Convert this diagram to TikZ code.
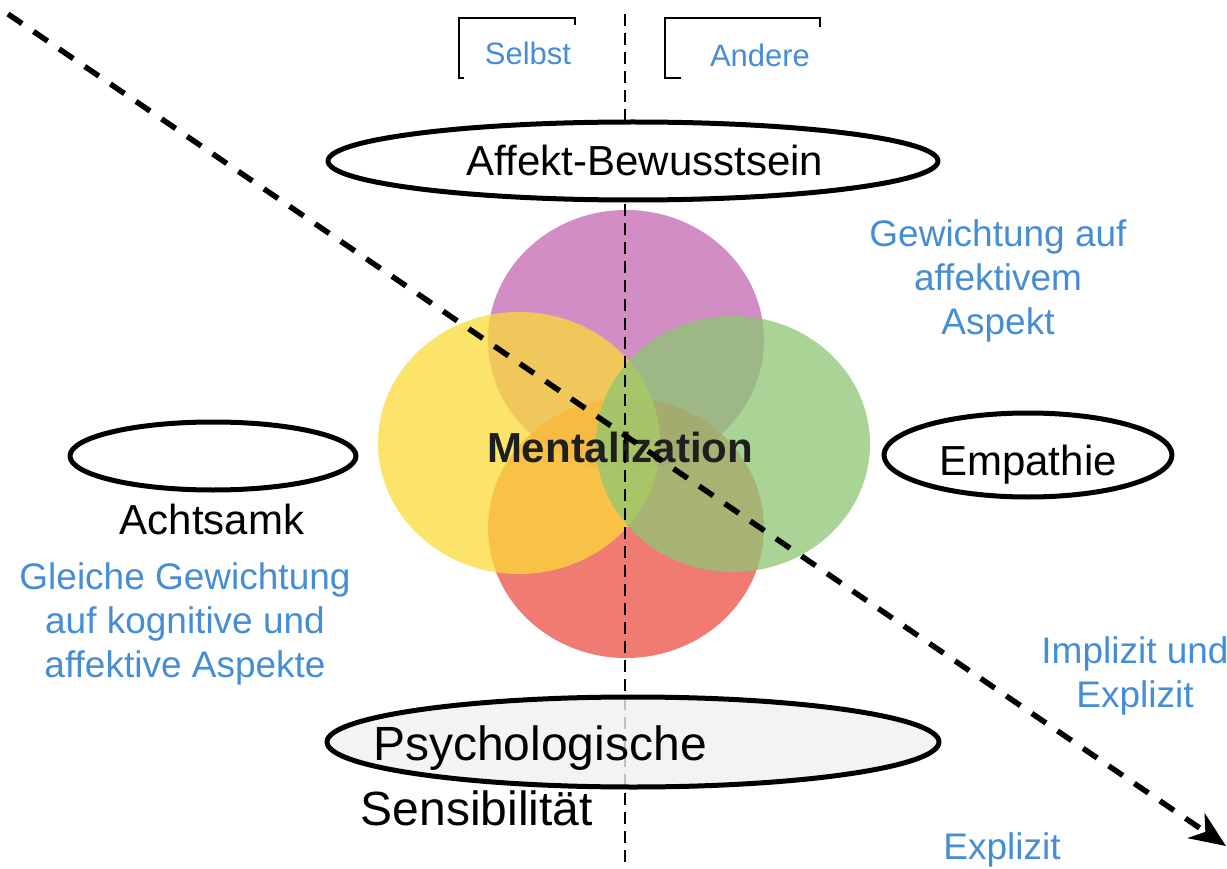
\documentclass[tikz,border=0pt]{standalone}
\usepackage{fontspec}
\setmainfont{Liberation Sans}
\usetikzlibrary{arrows.meta}
\definecolor{notecol}{RGB}{70,142,212}
\definecolor{affcol}{RGB}{196,103,178}
\definecolor{sencol}{RGB}{235,79,67}
\definecolor{achcol}{RGB}{251,219,56}
\definecolor{empcol}{RGB}{142,198,115}
\begin{document}
\begin{tikzpicture}[
		x=1pt,y=-1pt,
		line cap=butt,
		line join=round,
		term/.style={font=\fontsize{42}{48}\selectfont},
		bigterm/.style={font=\fontsize{48}{54}\selectfont},
		note/.style={text=notecol,align=center,font=\fontsize{37}{44}\selectfont},
		side/.style={text=notecol,font=\fontsize{31}{36}\selectfont},
		ring/.style={line width=5pt},
		petal/.style={fill opacity=0.75},
		bracket/.style={line width=2.5pt,line join=miter},
		axis/.style={line width=2.5pt,dash pattern=on 12pt off 7pt},
		diag/.style={line width=5.5pt,dash pattern=on 17pt off 14pt,-{Stealth[length=36pt,width=30pt,inset=11pt]}}
		]
		\useasboundingbox (0,0) rectangle (1227,869);
		% circles
		\fill[affcol,petal] (626,340) ellipse [x radius=138,y radius=130];
		\fill[sencol,petal] (626,528) ellipse [x radius=138,y radius=130];
		\fill[achcol,petal] (519,443) ellipse [x radius=141,y radius=131];
		\fill[empcol,petal] (733,444) ellipse [x radius=137,y radius=128];
		\node[font=\fontsize{42}{48}\selectfont\bfseries,text=black!88] (mental) at (620,447) {Mentalization};
		% axes
		\coordinate (top) at (625,14);
		\coordinate (bottom) at (625,869);
		\coordinate (start) at (8,14);
		\coordinate (end) at (1226,846);
		\draw[axis] (top) -- (bottom);
		\draw[diag] (start) -- (end);
		% brackets
		\draw[bracket] (464,78) -- (459,78) -- (459,18) -- (575,18) -- (575,25);
		\draw[bracket] (681,78) -- (665,78) -- (665,18) -- (820,18) -- (820,27);
		\node[side] (selbst) at (528,53) {Selbst};
		\node[side] (andere) at (760,55) {Andere};
		% ellipses
		\draw[ring,fill=white] (633,161) ellipse [x radius=305,y radius=39];
		\draw[ring] (213,456) ellipse [x radius=143,y radius=34];
		\draw[ring,fill=white] (1028,455) ellipse [x radius=144,y radius=42];
		\draw[ring,fill=black!6,fill opacity=0.8] (633,742) ellipse [x radius=306,y radius=45];
		\node[term] (affekt) at (645,160) {Affekt-Bewusstsein};
		\node[term] (acht) at (212,519) {Achtsamk};
		\node[term] (empathie) at (1028,465) {Empathie};
		\node[bigterm] (psych) at (540,748) {Psychologische};
		\node[bigterm] (sens) at (477,808) {Sensibilität};
		% notes
		\node[note] (affnote) at (998,281) {Gewichtung auf\\affektivem\\Aspekt};
		\node[note] (achnote) at (185,624) {Gleiche Gewichtung\\auf kognitive und\\affektive Aspekte};
		\node[note] (impl) at (1135,676) {Implizit und\\Explizit};
		\node[note] (expl) at (1002,850) {Explizit};
		\end{tikzpicture}
\end{document}
